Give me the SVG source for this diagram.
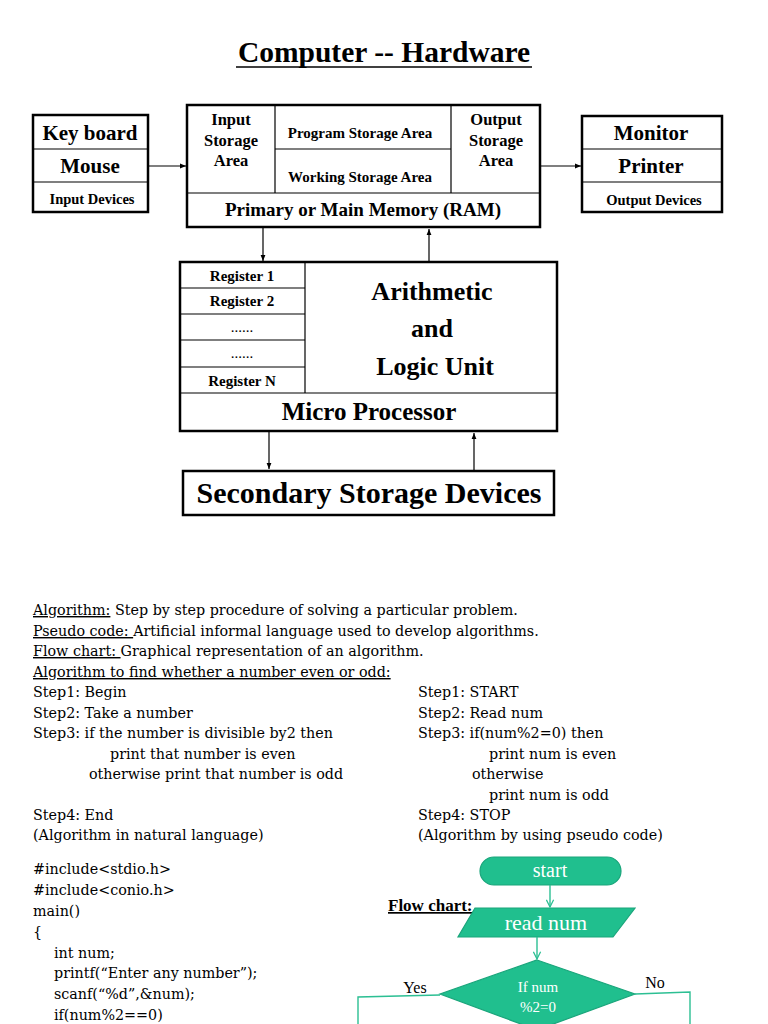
<svg xmlns="http://www.w3.org/2000/svg" width="768" height="1024" viewBox="0 0 768 1024">
<defs>
<style>
text{font-family:"Liberation Serif","Times New Roman",serif;fill:#000}
.b{font-weight:bold}
.box{fill:#fff;stroke:#000;stroke-width:2.5}
.ln{stroke:#000;stroke-width:1.2;fill:none}
.c{stroke:#000;stroke-width:1.2;fill:none;marker-end:url(#ah)}
.mid{text-anchor:middle}
.t{font-family:"DejaVu Serif","Liberation Serif",serif;font-size:14.3px}
.fc{fill:#20bf8e;stroke:#1aa57b;stroke-width:1.2}
.gl{stroke:#2cbf93;stroke-width:1.4;fill:none}
.ga{stroke:#2cbf93;stroke-width:1.4;fill:none;marker-end:url(#gh)}
.wt{fill:#fff;text-anchor:middle}
</style>
<marker id="ah" viewBox="0 0 10 10" refX="10" refY="5" markerWidth="6" markerHeight="6" orient="auto" markerUnits="userSpaceOnUse"><path d="M0,1 L10,5 L0,9 z" fill="#000"/></marker>
<marker id="gh" viewBox="0 0 10 10" refX="9" refY="5" markerWidth="9" markerHeight="9" orient="auto" markerUnits="userSpaceOnUse"><path d="M1,1 L9,5 L1,9" fill="none" stroke="#2cbf93" stroke-width="1.4"/></marker>
</defs>
<rect width="768" height="1024" fill="#fff"/>

<g id="title">
<text x="384" y="62" class="b mid" font-size="29.5">Computer -- Hardware</text>
<line x1="236" y1="67" x2="532" y2="67" stroke="#000" stroke-width="1.6"/>
</g>

<g id="input-devices">
<rect x="33" y="115" width="115" height="97" class="box"/>
<line x1="33" y1="149" x2="148" y2="149" class="ln"/>
<line x1="33" y1="182" x2="148" y2="182" class="ln"/>
<text x="90" y="140" class="b mid" font-size="21">Key board</text>
<text x="90" y="173" class="b mid" font-size="21">Mouse</text>
<text x="92" y="204" class="b mid" font-size="14.5">Input Devices</text>
</g>

<g id="memory">
<rect x="187" y="105" width="353" height="122" class="box"/>
<line x1="275" y1="105" x2="275" y2="193" class="ln"/>
<line x1="451" y1="105" x2="451" y2="193" class="ln"/>
<line x1="275" y1="149" x2="451" y2="149" class="ln"/>
<line x1="187" y1="193" x2="540" y2="193" class="ln"/>
<text class="b mid" font-size="16.5"><tspan x="231" y="125">Input</tspan><tspan x="231" y="146">Storage</tspan><tspan x="231" y="166">Area</tspan></text>
<text x="360" y="138" class="b mid" font-size="15">Program Storage Area</text>
<text x="360" y="182" class="b mid" font-size="15">Working Storage Area</text>
<text class="b mid" font-size="16.5"><tspan x="496" y="125">Output</tspan><tspan x="496" y="146">Storage</tspan><tspan x="496" y="166">Area</tspan></text>
<text x="363" y="216" class="b mid" font-size="19">Primary or Main Memory (RAM)</text>
</g>

<g id="output-devices">
<rect x="582" y="116" width="140" height="96" class="box"/>
<line x1="582" y1="149" x2="722" y2="149" class="ln"/>
<line x1="582" y1="182" x2="722" y2="182" class="ln"/>
<text x="651" y="140" class="b mid" font-size="21">Monitor</text>
<text x="651" y="173" class="b mid" font-size="21">Printer</text>
<text x="654" y="205" class="b mid" font-size="14.5">Output Devices</text>
</g>

<g id="processor">
<rect x="180" y="262" width="377" height="169" class="box"/>
<line x1="305" y1="262" x2="305" y2="393" class="ln"/>
<line x1="180" y1="288" x2="305" y2="288" class="ln" stroke-width="2"/>
<line x1="180" y1="314" x2="305" y2="314" class="ln"/>
<line x1="180" y1="340" x2="305" y2="340" class="ln"/>
<line x1="180" y1="367" x2="305" y2="367" class="ln"/>
<line x1="180" y1="393" x2="557" y2="393" class="ln"/>
<text x="242" y="281" class="b mid" font-size="15">Register 1</text>
<text x="242" y="306" class="b mid" font-size="15">Register 2</text>
<text x="242" y="332" class="mid" font-size="15">......</text>
<text x="242" y="358" class="mid" font-size="15">......</text>
<text x="242" y="386" class="b mid" font-size="15">Register N</text>
<text class="b mid" font-size="26"><tspan x="432" y="300">Arithmetic</tspan><tspan x="432" y="337">and</tspan><tspan x="435" y="375">Logic Unit</tspan></text>
<text x="369" y="420" class="b mid" font-size="25">Micro Processor</text>
</g>

<g id="secondary">
<rect x="183" y="471" width="371" height="44" class="box"/>
<text x="369" y="503" class="b mid" font-size="30">Secondary Storage Devices</text>
</g>

<g id="connectors">
<line x1="148" y1="166" x2="186" y2="166" class="c"/>
<line x1="540" y1="166" x2="581" y2="166" class="c"/>
<line x1="263" y1="227" x2="263" y2="261" class="c"/>
<line x1="429" y1="262" x2="429" y2="229" class="c"/>
<line x1="269" y1="431" x2="269" y2="469" class="c"/>
<line x1="474" y1="471" x2="474" y2="433" class="c"/>
</g>

<g id="definitions">
<text x="33" y="615" class="t"><tspan text-decoration="underline">Algorithm:</tspan> Step by step procedure of solving a particular problem.</text>
<text x="33" y="636" class="t"><tspan text-decoration="underline">Pseudo code: </tspan>Artificial informal language used to develop algorithms.</text>
<text x="33" y="656" class="t"><tspan text-decoration="underline">Flow chart: </tspan>Graphical representation of an algorithm.</text>
<text x="33" y="677" class="t" text-decoration="underline">Algorithm to find whether a number even or odd:</text>
</g>

<g id="natural-algorithm">
<text x="33" y="697" class="t">Step1: Begin</text>
<text x="33" y="718" class="t">Step2: Take a number</text>
<text x="33" y="738" class="t">Step3: if the number is divisible by2 then</text>
<text x="110" y="759" class="t">print that number is even</text>
<text x="89" y="779" class="t">otherwise print that number is odd</text>
<text x="33" y="820" class="t">Step4: End</text>
<text x="33" y="840" class="t">(Algorithm in natural language)</text>
</g>

<g id="pseudo-code">
<text x="418" y="697" class="t">Step1: START</text>
<text x="418" y="718" class="t">Step2: Read num</text>
<text x="418" y="738" class="t">Step3: if(num%2=0) then</text>
<text x="489" y="759" class="t">print num is even</text>
<text x="472" y="779" class="t">otherwise</text>
<text x="489" y="800" class="t">print num is odd</text>
<text x="418" y="820" class="t">Step4: STOP</text>
<text x="418" y="840" class="t">(Algorithm by using pseudo code)</text>
</g>

<g id="c-code">
<text x="33" y="874" class="t">#include&lt;stdio.h&gt;</text>
<text x="33" y="895" class="t">#include&lt;conio.h&gt;</text>
<text x="33" y="916" class="t">main()</text>
<text x="33" y="937" class="t">{</text>
<text x="54" y="958" class="t">int num;</text>
<text x="54" y="978" class="t">printf(“Enter any number”);</text>
<text x="54" y="999" class="t">scanf(“%d”,&amp;num);</text>
<text x="54" y="1020" class="t">if(num%2==0)</text>
</g>

<g id="flowchart-label">
<text x="388" y="911" class="b" font-size="17" text-decoration="underline">Flow chart:</text>
</g>

<g id="fc-start">
<rect x="480" y="857" width="141" height="28" rx="14" class="fc"/>
<text x="550" y="877" class="wt" font-size="20">start</text>
</g>

<g id="fc-read">
<polygon points="475,908 635,908 613,937 458,937" class="fc"/>
<text x="546" y="930" class="wt" font-size="22">read num</text>
</g>

<g id="fc-decision">
<polygon points="537,960 635,994 537,1030 440,994" class="fc"/>
<text x="538" y="992" class="wt" font-size="15" fill="#e8f8f2">If num</text>
<text x="538" y="1012" class="wt" font-size="15" fill="#e8f8f2">%2=0</text>
</g>

<g id="fc-connectors">
<line x1="550" y1="885" x2="550" y2="907" class="ga"/>
<line x1="537" y1="937" x2="537" y2="959" class="ga"/>
<polyline points="440,995 358,997 358,1024" class="gl"/>
<polyline points="635,994 690,992 690,1024" class="gl"/>
<text x="415" y="993" class="mid" font-size="16">Yes</text>
<text x="655" y="988" class="mid" font-size="16">No</text>
</g>
</svg>
